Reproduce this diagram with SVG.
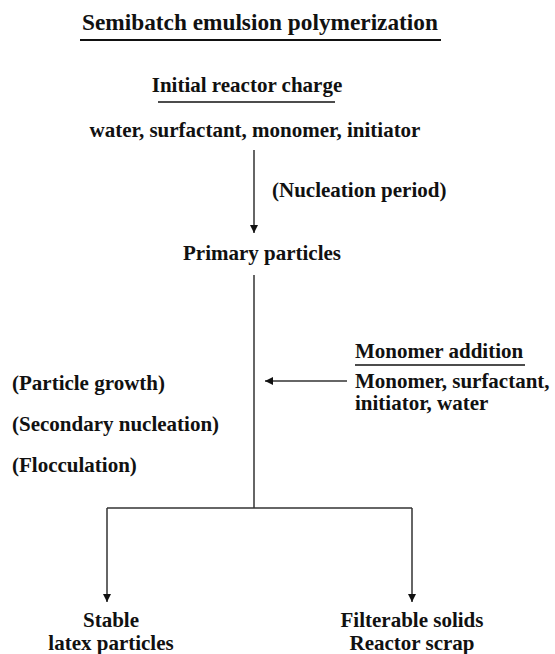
<svg xmlns="http://www.w3.org/2000/svg" width="555" height="654" viewBox="0 0 555 654">
<defs>
<style>
text{font-family:'Liberation Serif','Times New Roman','DejaVu Serif',serif;font-weight:700;font-size:21px;fill:#111}
.title{font-size:23.3px}
.mid{text-anchor:middle}
.ln{stroke:#333;stroke-width:1.5;fill:none}
.ul{stroke:#111;fill:none}
</style>
<marker id="ah" viewBox="0 0 10 10" refX="10" refY="5" markerWidth="8" markerHeight="8" markerUnits="userSpaceOnUse" orient="auto">
<path d="M0,0 L10,5 L0,10 z" fill="#111"/>
</marker>
</defs>
<rect width="555" height="654" fill="#fff"/>
<g id="title">
<text class="title mid" x="260" y="30">Semibatch emulsion polymerization</text>
<line class="ul" x1="80" y1="40" x2="441" y2="40" stroke-width="2.2"/>
</g>
<g id="initial-charge">
<text class="mid" x="247" y="92">Initial reactor charge</text>
<line class="ul" x1="158" y1="102" x2="335" y2="102" stroke-width="1.6"/>
<text class="mid" x="255" y="137">water, surfactant, monomer, initiator</text>
</g>
<g id="nucleation">
<text x="272" y="197">(Nucleation period)</text>
</g>
<g id="primary">
<text class="mid" x="262" y="260">Primary particles</text>
</g>
<g id="processes">
<text x="12" y="390">(Particle growth)</text>
<text x="12" y="431">(Secondary nucleation)</text>
<text x="12" y="472">(Flocculation)</text>
</g>
<g id="monomer-addition">
<text x="355" y="358">Monomer addition</text>
<line class="ul" x1="355" y1="365" x2="525" y2="365" stroke-width="1.6"/>
<text x="355" y="388">Monomer, surfactant,</text>
<text x="355" y="410">initiator, water</text>
</g>
<g id="stable">
<text class="mid" x="111" y="627">Stable</text>
<text class="mid" x="111" y="650">latex particles</text>
</g>
<g id="scrap">
<text class="mid" x="412" y="627">Filterable solids</text>
<text class="mid" x="412" y="650">Reactor scrap</text>
</g>
<g id="connectors">
<line class="ln" x1="254" y1="150" x2="254" y2="233" marker-end="url(#ah)"/>
<line class="ln" x1="254" y1="275" x2="254" y2="508"/>
<line class="ln" x1="347" y1="381" x2="265" y2="381" marker-end="url(#ah)"/>
<line class="ln" x1="107" y1="508" x2="412" y2="508"/>
<line class="ln" x1="107" y1="508" x2="107" y2="602" marker-end="url(#ah)"/>
<line class="ln" x1="412" y1="508" x2="412" y2="602" marker-end="url(#ah)"/>
</g>
</svg>
